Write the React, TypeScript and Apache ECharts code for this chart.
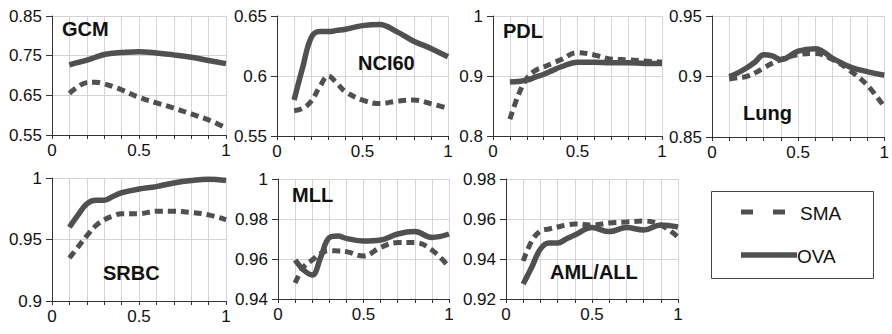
import React, { useEffect, useRef } from "react";
import * as echarts from "echarts";

const X = [0.1, 0.15, 0.2, 0.25, 0.3, 0.35, 0.4, 0.5, 0.6, 0.7, 0.8, 0.9, 1.0];

const gcmOVA = [0.727, 0.733, 0.739, 0.746, 0.753, 0.756, 0.758, 0.76, 0.757, 0.752, 0.746, 0.738, 0.73];
const gcmSMA = [0.655, 0.672, 0.682, 0.683, 0.679, 0.672, 0.664, 0.645, 0.631, 0.618, 0.603, 0.588, 0.568];
const nciOVA = [0.58, 0.607, 0.632, 0.637, 0.637, 0.638, 0.639, 0.642, 0.643, 0.637, 0.629, 0.623, 0.616];
const nciSMA = [0.571, 0.573, 0.579, 0.591, 0.6, 0.594, 0.587, 0.58, 0.577, 0.579, 0.58, 0.577, 0.573];
const pdlOVA = [0.89, 0.891, 0.893, 0.898, 0.903, 0.909, 0.915, 0.923, 0.923, 0.922, 0.922, 0.921, 0.921];
const pdlSMA = [0.828, 0.868, 0.896, 0.909, 0.915, 0.921, 0.927, 0.939, 0.935, 0.928, 0.927, 0.925, 0.923];
const lungOVA = [0.9, 0.903, 0.907, 0.912, 0.918, 0.917, 0.914, 0.921, 0.923, 0.915, 0.908, 0.904, 0.901];
const lungSMA = [0.898, 0.899, 0.9, 0.903, 0.907, 0.911, 0.914, 0.918, 0.919, 0.914, 0.905, 0.893, 0.875];
const srbcOVA = [0.96, 0.97, 0.979, 0.982, 0.982, 0.985, 0.988, 0.991, 0.993, 0.996, 0.998, 0.999, 0.998];
const srbcSMA = [0.935, 0.944, 0.953, 0.961, 0.966, 0.969, 0.971, 0.971, 0.973, 0.973, 0.972, 0.97, 0.966];
const mllOVA = [0.9595, 0.9545, 0.952, 0.961, 0.9707, 0.9715, 0.9703, 0.969, 0.9695, 0.9725, 0.9737, 0.9708, 0.9725];
const mllSMA = [0.948, 0.956, 0.9595, 0.9628, 0.9642, 0.964, 0.9637, 0.9615, 0.9658, 0.9682, 0.9682, 0.9645, 0.956];
const amlOVA = [0.9275, 0.936, 0.945, 0.948, 0.948, 0.95, 0.952, 0.9557, 0.9537, 0.9557, 0.9545, 0.957, 0.956];
const amlSMA = [0.939, 0.949, 0.954, 0.955, 0.956, 0.957, 0.9575, 0.957, 0.958, 0.9585, 0.959, 0.957, 0.951];

const titles = ["GCM", "NCI60", "PDL", "Lung", "SRBC", "MLL", "AML/ALL"];
const yMins = [0.55, 0.55, 0.8, 0.85, 0.9, 0.94, 0.92];
const yMaxs = [0.85, 0.65, 1, 0.95, 1, 1, 0.98];
const yIntervals = [0.1, 0.05, 0.1, 0.05, 0.05, 0.02, 0.02];
const xTickLabels = ["0", "0.5", "1"];
const legendNames = ["SMA", "OVA"];

const ovaData = [gcmOVA, nciOVA, pdlOVA, lungOVA, srbcOVA, mllOVA, amlOVA];
const smaData = [gcmSMA, nciSMA, pdlSMA, lungSMA, srbcSMA, mllSMA, amlSMA];

const grids = [
  { left: 52, top: 16, width: 174, height: 119 },
  { left: 277, top: 16, width: 171, height: 120 },
  { left: 493, top: 16, width: 169, height: 120 },
  { left: 712, top: 16, width: 174, height: 121 },
  { left: 52, top: 178, width: 174, height: 123 },
  { left: 278, top: 179, width: 171, height: 120 },
  { left: 506, top: 179, width: 172, height: 120 },
];
const titlePos = [
  [62, 19],
  [358, 53],
  [503, 21],
  [743, 103],
  [103, 263],
  [292, 185],
  [550, 262],
];

const FONT = "'Liberation Sans', Arial, sans-serif";
const LINE = "#505050";

export default function App() {
  const ref = useRef<HTMLDivElement>(null);
  useEffect(() => {
    if (!ref.current) return;
    const chart = echarts.init(ref.current, undefined, { renderer: "svg" });
    const xAxis: any[] = [];
    const yAxis: any[] = [];
    const series: any[] = [];
    grids.forEach((g, i) => {
      xAxis.push({
        type: "value",
        gridIndex: i,
        min: 0,
        max: 1,
        interval: 0.1,
        axisLine: { show: true, lineStyle: { color: "#333", width: 1 } },
        axisTick: { show: true, length: 4, lineStyle: { color: "#333" } },
        splitLine: { show: true, lineStyle: { color: "#d4d4d4", width: 1 } },
        axisLabel: {
          margin: 7,
          fontFamily: FONT,
          fontSize: 17,
          color: "#111",
          showMinLabel: true,
          showMaxLabel: true,
          formatter: (v: number) => {
            const s = String(Number(v.toFixed(2)));
            return xTickLabels.includes(s) ? s : "";
          },
        },
      });
      yAxis.push({
        type: "value",
        gridIndex: i,
        min: yMins[i],
        max: yMaxs[i],
        interval: yIntervals[i],
        axisLine: { show: true, lineStyle: { color: "#333", width: 1 } },
        axisTick: { show: true, length: 6, lineStyle: { color: "#333" } },
        splitLine: { show: true, lineStyle: { color: "#d4d4d4", width: 1 } },
        axisLabel: {
          margin: 10,
          fontFamily: FONT,
          fontSize: 17,
          color: "#111",
          showMinLabel: true,
          showMaxLabel: true,
          formatter: (v: number) => String(Number(v.toFixed(3))),
        },
      });
      series.push({
        type: "line",
        name: "SMA",
        xAxisIndex: i,
        yAxisIndex: i,
        data: X.map((x, k) => [x, smaData[i][k]]),
        showSymbol: false,
        smooth: 0.4,
        lineStyle: { color: LINE, width: 5, type: [8, 5] },
        z: 2,
      });
      series.push({
        type: "line",
        name: "OVA",
        xAxisIndex: i,
        yAxisIndex: i,
        data: X.map((x, k) => [x, ovaData[i][k]]),
        showSymbol: false,
        smooth: 0.4,
        lineStyle: { color: LINE, width: 5.5 },
        z: 3,
      });
    });
    const graphic: any[] = titles.map((t, i) => ({
      type: "text",
      x: titlePos[i][0],
      y: titlePos[i][1],
      z: 10,
      style: {
        text: t,
        font: `bold 20px ${FONT}`,
        fill: "#111",
        textVerticalAlign: "top",
      },
    }));
    graphic.push(
      {
        type: "rect",
        shape: { x: 711.5, y: 191.5, width: 162, height: 87 },
        style: { fill: "#fff", stroke: "#444", lineWidth: 1 },
      },
      {
        type: "line",
        shape: { x1: 741, y1: 212, x2: 787, y2: 212 },
        style: { stroke: LINE, lineWidth: 5, lineDash: [12, 20] },
      },
      {
        type: "line",
        shape: { x1: 741, y1: 255, x2: 797, y2: 255 },
        style: { stroke: LINE, lineWidth: 5.5 },
      },
      {
        type: "text",
        x: 800,
        y: 213,
        style: { text: legendNames[0], font: `19px ${FONT}`, fill: "#111", textVerticalAlign: "middle" },
      },
      {
        type: "text",
        x: 797,
        y: 256,
        style: { text: legendNames[1], font: `19px ${FONT}`, fill: "#111", textVerticalAlign: "middle" },
      }
    );
    chart.setOption({
      animation: false,
      backgroundColor: "#fff",
      grid: grids.map((g) => ({ ...g, containLabel: false })),
      xAxis,
      yAxis,
      series,
      graphic,
    });
    return () => chart.dispose();
  }, []);
  return (
    <div
      ref={ref}
      style={{ position: "fixed", left: 0, top: 0, width: 892, height: 334, background: "#fff" }}
    />
  );
}
